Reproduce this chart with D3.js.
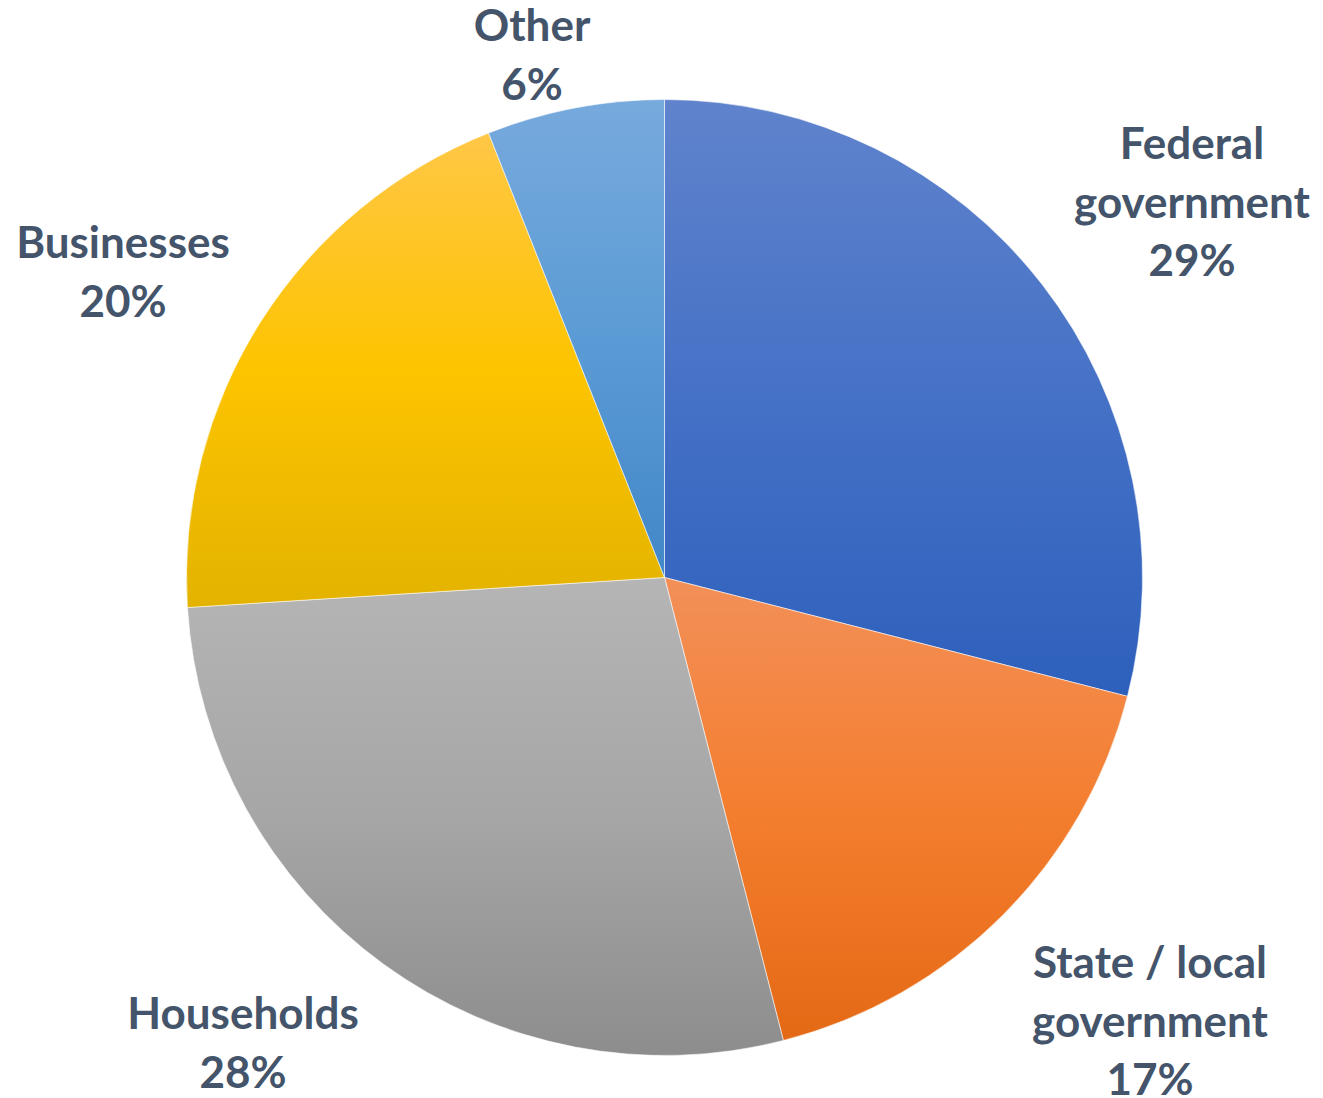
<!DOCTYPE html>
<html>
<head>
<meta charset="utf-8">
<script src="https://cdn.jsdelivr.net/npm/d3@7"></script>
<style>
  html, body { margin: 0; padding: 0; background: #ffffff; }
  svg { display: block; }
</style>
</head>
<body>
<svg id="chart" width="1323" height="1098"></svg>
<script>
// Shares of spending by sector (percent)
const categories = ["Federal government", "State / local government", "Households", "Businesses", "Other"];
const labelLines = [["Federal", "government"], ["State / local", "government"], ["Households"], ["Businesses"], ["Other"]];
const shares = [29, 17, 28, 20, 6];

// Vertical gradient stops per slice: light top, base middle, dark bottom
const sliceGradients = [
  ["#6083cc", "#4571c6", "#2d60bc"],
  ["#f29059", "#f47e2f", "#e46915"],
  ["#b5b5b5", "#a6a6a6", "#8d8d8d"],
  ["#ffc746", "#fdc400", "#e3b300"],
  ["#77aadd", "#5b9bd5", "#4287c8"]
];

// Label anchor layout: centre x and first baseline y of each label block
const labelLayout = [
  { x: 1192, y: 159 },
  { x: 1150, y: 978 },
  { x: 243, y: 1029 },
  { x: 123, y: 258 },
  { x: 532, y: 41 }
];

const width = 1323, height = 1098;
const cx = 664.5, cy = 577.5, radius = 478;
const lineHeight = 58.5;

const svg = d3.select("#chart");
const defs = svg.append("defs");

sliceGradients.forEach((stops, i) => {
  const g = defs.append("linearGradient")
    .attr("id", "slice-grad-" + i)
    .attr("x1", 0).attr("y1", 0).attr("x2", 0).attr("y2", 1);
  g.append("stop").attr("offset", "0%").attr("stop-color", stops[0]);
  g.append("stop").attr("offset", "50%").attr("stop-color", stops[1]);
  g.append("stop").attr("offset", "100%").attr("stop-color", stops[2]);
});

const data = categories.map((c, i) => ({ category: c, value: shares[i], index: i }));

const pie = d3.pie()
  .value(d => d.value)
  .sort(null)
  .startAngle(0)
  .endAngle(2 * Math.PI);

const arc = d3.arc().innerRadius(0).outerRadius(radius);

const g = svg.append("g").attr("transform", `translate(${cx},${cy})`);

g.selectAll("path.slice")
  .data(pie(data))
  .join("path")
  .attr("class", "slice")
  .attr("d", arc)
  .attr("fill", d => `url(#slice-grad-${d.data.index})`)
  .attr("stroke", "rgba(255,255,255,0.55)")
  .attr("stroke-width", 1);

// Data labels: category name lines followed by the percentage
const labels = svg.append("g")
  .attr("font-family", "Lato, 'Open Sans', sans-serif")
  .attr("font-weight", "bold")
  .attr("font-size", 44)
  .attr("fill", "#44546a")
  .attr("text-anchor", "middle");

data.forEach((d, i) => {
  const pos = labelLayout[i];
  const lines = labelLines[i].concat([d.value + "%"]);
  const t = labels.append("text").attr("x", pos.x).attr("y", pos.y);
  lines.forEach((ln, k) => {
    t.append("tspan")
      .attr("x", pos.x)
      .attr("y", pos.y + k * lineHeight)
      .text(ln);
  });
});
</script>
</body>
</html>
